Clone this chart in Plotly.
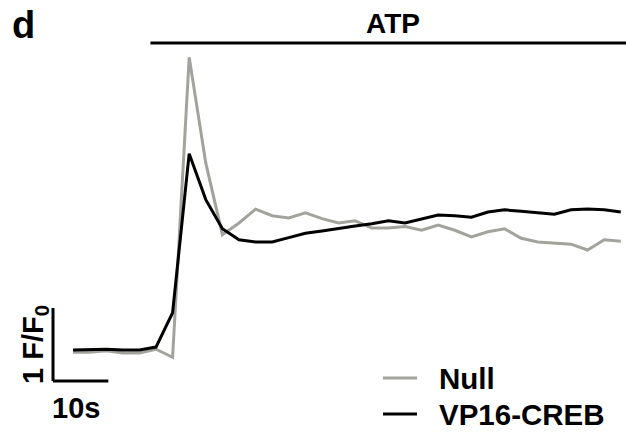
import plotly.graph_objects as go

# ---- data (F/F0, sampled every 3 s) ----
frame_interval_s = 3
null_trace = [0.97, 0.97, 0.99, 0.96, 0.96, 1.01, 0.90, 5.01, 3.56, 2.58, 2.74, 2.93,
              2.84, 2.81, 2.88, 2.80, 2.74, 2.77, 2.67, 2.67, 2.69, 2.64, 2.71, 2.64,
              2.55, 2.62, 2.66, 2.53, 2.48, 2.47, 2.45, 2.37, 2.51, 2.49]
vp16_creb = [1.00, 1.01, 1.01, 1.00, 1.00, 1.04, 1.51, 3.69, 3.06, 2.66, 2.51, 2.48,
             2.48, 2.54, 2.60, 2.63, 2.67, 2.70, 2.73, 2.77, 2.74, 2.80, 2.85, 2.84,
             2.82, 2.89, 2.92, 2.90, 2.88, 2.86, 2.92, 2.93, 2.92, 2.89]
series_names = ["Null", "VP16-CREB"]
series_colors = ["#a3a39e", "#000000"]
atp_start_s = 14
scale_time_s = 10
scale_ff0 = 1

time_s = [i * frame_interval_s for i in range(len(null_trace))]

FONT = "Liberation Sans, Arial, sans-serif"

fig = go.Figure()
for name, ys, col in zip(series_names, [null_trace, vp16_creb], series_colors):
    fig.add_trace(go.Scatter(x=time_s, y=ys, mode="lines", name=name,
                             line=dict(color=col, width=3), showlegend=False))

x_range = [-13.19, 99.94]
y_range = [-0.151, 5.795]

shapes = []
# ATP application bar
shapes.append(dict(type="line", xref="x", yref="paper", x0=atp_start_s, x1=x_range[1],
                   y0=1 - 43 / 434, y1=1 - 43 / 434, line=dict(color="black", width=3)))
# scale bar
sb_x = -3.61
sb_y = 0.575
shapes.append(dict(type="line", xref="x", yref="y", x0=sb_x, x1=sb_x + scale_time_s,
                   y0=sb_y, y1=sb_y, line=dict(color="black", width=3)))
shapes.append(dict(type="line", xref="x", yref="y", x0=sb_x, x1=sb_x,
                   y0=sb_y, y1=sb_y + scale_ff0, line=dict(color="black", width=3)))
# legend samples
leg_y = [1 - 378 / 434, 1 - 414 / 434]
for yy, col in zip(leg_y, series_colors):
    shapes.append(dict(type="line", xref="paper", yref="paper", x0=383 / 626, x1=417 / 626,
                       y0=yy, y1=yy, line=dict(color=col, width=3)))

annotations = [
    dict(text="d", xref="paper", yref="paper", x=10 / 626, y=1 - 25 / 434, xanchor="left",
         yanchor="middle", showarrow=False, font=dict(size=38, family=FONT, color="black", weight="bold")),
    dict(text="ATP", xref="paper", yref="paper", x=393 / 626, y=1 - 24 / 434, xanchor="center",
         yanchor="middle", showarrow=False, font=dict(size=28, family=FONT, color="black", weight="bold")),
    dict(text=f"{scale_time_s}s", xref="paper", yref="paper", x=76 / 626, y=1 - 408 / 434,
         xanchor="center", yanchor="middle", showarrow=False,
         font=dict(size=29, family=FONT, color="black", weight="bold")),
    dict(text=f"{scale_ff0} F/F<sub>0</sub>", xref="paper", yref="paper", x=35 / 626, y=1 - 345 / 434,
         xanchor="center", yanchor="middle", textangle=-90, showarrow=False,
         font=dict(size=29, family=FONT, color="black", weight="bold")),
]
for name, yy in zip(series_names, leg_y):
    annotations.append(dict(text=name, xref="paper", yref="paper", x=437 / 626, y=yy,
                            xanchor="left", yanchor="middle", showarrow=False,
                            font=dict(size=29.5, family=FONT, color="black", weight="bold")))

fig.update_layout(
    width=626, height=434, margin=dict(l=0, r=0, t=0, b=0),
    paper_bgcolor="white", plot_bgcolor="white",
    xaxis=dict(range=x_range, visible=False, showgrid=False, zeroline=False),
    yaxis=dict(range=y_range, visible=False, showgrid=False, zeroline=False),
    shapes=shapes, annotations=annotations, showlegend=False,
)
fig.write_html("out.html")
